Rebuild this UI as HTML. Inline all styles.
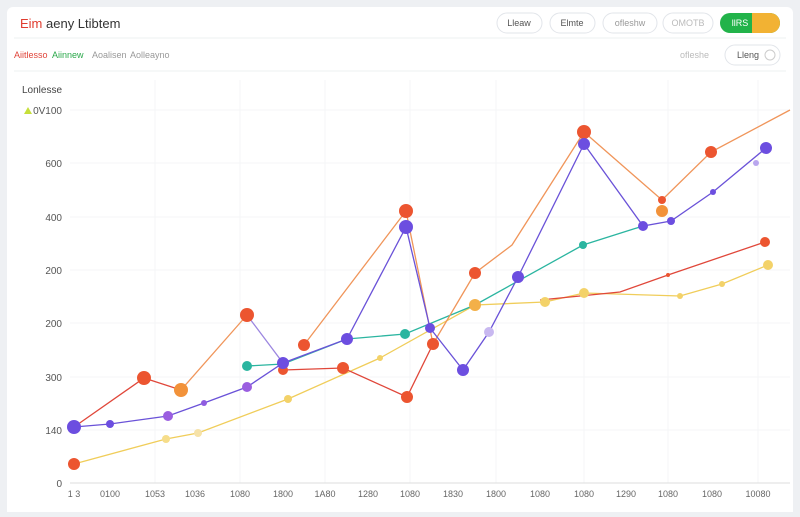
<!DOCTYPE html><html><head><style>
body{margin:0;background:#eef0f3;font-family:"Liberation Sans",sans-serif;}
</style></head><body>
<svg width="800" height="512" xmlns="http://www.w3.org/2000/svg" font-family="Liberation Sans, sans-serif">
<rect x="0" y="0" width="800" height="512" fill="#eef0f3"/>
<rect x="7" y="7" width="786" height="512" rx="6" fill="#fff"/>
<text x="20" y="28" font-size="13" fill="#333"><tspan fill="#e03b2e">Eim</tspan> aeny Ltibtem</text>
<g font-size="9" fill="#555" text-anchor="middle">
<rect x="497" y="13" width="45" height="20" rx="10" fill="#fff" stroke="#e2e5ea"/><text x="519" y="26">Lleaw</text>
<rect x="550" y="13" width="45" height="20" rx="10" fill="#fff" stroke="#e2e5ea"/><text x="572" y="26">Elmte</text>
<rect x="603" y="13" width="54" height="20" rx="10" fill="#fff" stroke="#e2e5ea"/><text x="630" y="26" fill="#999">ofleshw</text>
<rect x="663" y="13" width="50" height="20" rx="10" fill="#fff" stroke="#e2e5ea"/><text x="688" y="26" fill="#bbb">OMOTB</text>
<rect x="720" y="13" width="60" height="20" rx="10" fill="#22b34a"/><rect x="752" y="13" width="28" height="20" rx="10" fill="#f2b233"/><rect x="752" y="13" width="10" height="20" fill="#f2b233"/><text x="740" y="26" fill="#fff">llRS</text>
</g>
<line x1="14" y1="38" x2="786" y2="38" stroke="#eef0f2"/>
<g font-size="9">
<text x="14" y="58" fill="#e0443a">Aiitlesso</text>
<text x="52" y="58" fill="#2aa84a">Aiinnew</text>
<text x="92" y="58" fill="#999">Aoalisen</text>
<text x="130" y="58" fill="#999">Aolleayno</text>
<text x="680" y="58" fill="#bbb">ofleshe</text>
</g>
<rect x="725" y="45" width="55" height="20" rx="10" fill="#fff" stroke="#e2e5ea"/><text x="737" y="58" font-size="9" fill="#555">Lleng</text><circle cx="770" cy="55" r="5" fill="#fff" stroke="#ccc"/>
<line x1="14" y1="71" x2="786" y2="71" stroke="#eef0f2"/>
<text x="22" y="93" font-size="10" fill="#444">Lonlesse</text>
<polygon points="24,114 28,107 32,114" fill="#c6df3a"/>
<g font-size="10" fill="#555" text-anchor="end">
<text x="62" y="114">0V100</text><text x="62" y="167">600</text><text x="62" y="221">400</text><text x="62" y="274">200</text><text x="62" y="327">200</text><text x="62" y="381">300</text><text x="62" y="434">140</text><text x="62" y="487">0</text>
</g>
<g stroke="#f4f5f7">
<line x1="70" y1="110" x2="790" y2="110"/><line x1="70" y1="163" x2="790" y2="163"/><line x1="70" y1="217" x2="790" y2="217"/><line x1="70" y1="270" x2="790" y2="270"/><line x1="70" y1="323" x2="790" y2="323"/><line x1="70" y1="377" x2="790" y2="377"/><line x1="70" y1="430" x2="790" y2="430"/>
<line x1="155" y1="80" x2="155" y2="483"/><line x1="240" y1="80" x2="240" y2="483"/><line x1="325" y1="80" x2="325" y2="483"/><line x1="410" y1="80" x2="410" y2="483"/><line x1="496" y1="80" x2="496" y2="483"/><line x1="584" y1="80" x2="584" y2="483"/><line x1="668" y1="80" x2="668" y2="483"/><line x1="758" y1="80" x2="758" y2="483"/>
</g>
<line x1="70" y1="483" x2="790" y2="483" stroke="#ddd"/>
<g font-size="9" fill="#666" text-anchor="middle">
<text x="74" y="497">1 3</text><text x="110" y="497">0100</text><text x="155" y="497">1053</text><text x="195" y="497">1036</text><text x="240" y="497">1080</text><text x="283" y="497">1800</text><text x="325" y="497">1A80</text><text x="368" y="497">1280</text><text x="410" y="497">1080</text><text x="453" y="497">1830</text><text x="496" y="497">1800</text><text x="540" y="497">1080</text><text x="584" y="497">1080</text><text x="626" y="497">1290</text><text x="668" y="497">1080</text><text x="712" y="497">1080</text><text x="758" y="497">10080</text>
</g>
<g fill="none" stroke-width="1.3">
<polyline stroke="#f0cd5a" points="74,464 166,439 198,433 288,399 380,358 475,305 545,302 584,293 680,296 722,284 768,265"/>
<polyline stroke="#2bb5a0" points="247,366 283,364 347,339 405,334 475,305 583,245 643,226"/>
<polyline stroke="#e0473a" points="74,427 144,378 181,390"/>
<polyline stroke="#e0473a" points="283,370 343,368 407,397 433,344"/>
<polyline stroke="#e0473a" points="540,300 620,292 668,275 765,242"/>
<polyline stroke="#f0955a" points="181,390 247,315"/>
<polyline stroke="#f0955a" points="304,345 406,211 433,344 475,273 512,245 584,132 662,200 711,152 790,110"/>
<polyline stroke="#6a52d8" points="74,427 110,424 168,416 204,403 247,387 283,363 347,339 406,227 430,328 463,370 489,332 518,277 584,144 643,226 671,221 713,192 766,148"/>
<polyline stroke="#9c86e0" points="247,315 283,363"/>
</g>
<g>
<circle cx="74" cy="464" r="6" fill="#ec5530"/>
<circle cx="166" cy="439" r="4" fill="#f6dd8a"/><circle cx="198" cy="433" r="4" fill="#f6e2a8"/><circle cx="288" cy="399" r="4" fill="#f3d269"/><circle cx="380" cy="358" r="3" fill="#f3d269"/><circle cx="545" cy="302" r="5" fill="#f3d269"/><circle cx="584" cy="293" r="5" fill="#f3d269"/><circle cx="680" cy="296" r="3" fill="#f3d269"/><circle cx="722" cy="284" r="3" fill="#f3d269"/><circle cx="768" cy="265" r="5" fill="#f3d269"/>
<circle cx="247" cy="366" r="5" fill="#2bb5a0"/><circle cx="405" cy="334" r="5" fill="#2bb5a0"/><circle cx="583" cy="245" r="4" fill="#2bb5a0"/><circle cx="475" cy="305" r="6" fill="#f3b049"/>
<circle cx="74" cy="427" r="7" fill="#6c4ee0"/><circle cx="110" cy="424" r="4" fill="#6c4ee0"/><circle cx="168" cy="416" r="5" fill="#9a5ee0"/><circle cx="204" cy="403" r="3" fill="#8f5ce0"/><circle cx="247" cy="387" r="5" fill="#9a5ee0"/>
<circle cx="144" cy="378" r="7" fill="#ec5530"/><circle cx="181" cy="390" r="7" fill="#f2923a"/><circle cx="247" cy="315" r="7" fill="#ec5530"/>
<circle cx="283" cy="370" r="5" fill="#ec5530"/><circle cx="283" cy="363" r="6" fill="#6c4ee0"/><circle cx="343" cy="368" r="6" fill="#ec5530"/><circle cx="347" cy="339" r="6" fill="#6c4ee0"/>
<circle cx="304" cy="345" r="6" fill="#ec5530"/><circle cx="406" cy="211" r="7" fill="#ec5530"/><circle cx="406" cy="227" r="7" fill="#6c4ee0"/><circle cx="407" cy="397" r="6" fill="#ec5530"/><circle cx="433" cy="344" r="6" fill="#ec5530"/><circle cx="430" cy="328" r="5" fill="#6c4ee0"/><circle cx="463" cy="370" r="6" fill="#6c4ee0"/><circle cx="489" cy="332" r="5" fill="#c8b8f0"/><circle cx="475" cy="273" r="6" fill="#ec5530"/><circle cx="518" cy="277" r="6" fill="#6c4ee0"/>
<circle cx="584" cy="132" r="7" fill="#ec5530"/><circle cx="584" cy="144" r="6" fill="#6c4ee0"/><circle cx="662" cy="200" r="4" fill="#ec5530"/><circle cx="662" cy="211" r="6" fill="#f2923a"/><circle cx="643" cy="226" r="5" fill="#6c4ee0"/><circle cx="671" cy="221" r="4" fill="#6c4ee0"/><circle cx="713" cy="192" r="3" fill="#6c4ee0"/><circle cx="711" cy="152" r="6" fill="#ec5530"/><circle cx="766" cy="148" r="6" fill="#6c4ee0"/><circle cx="756" cy="163" r="3" fill="#b9a6ee"/>
<circle cx="765" cy="242" r="5" fill="#ec5530"/><circle cx="668" cy="275" r="2" fill="#ec5530"/>
</g>
</svg>
</body></html>
